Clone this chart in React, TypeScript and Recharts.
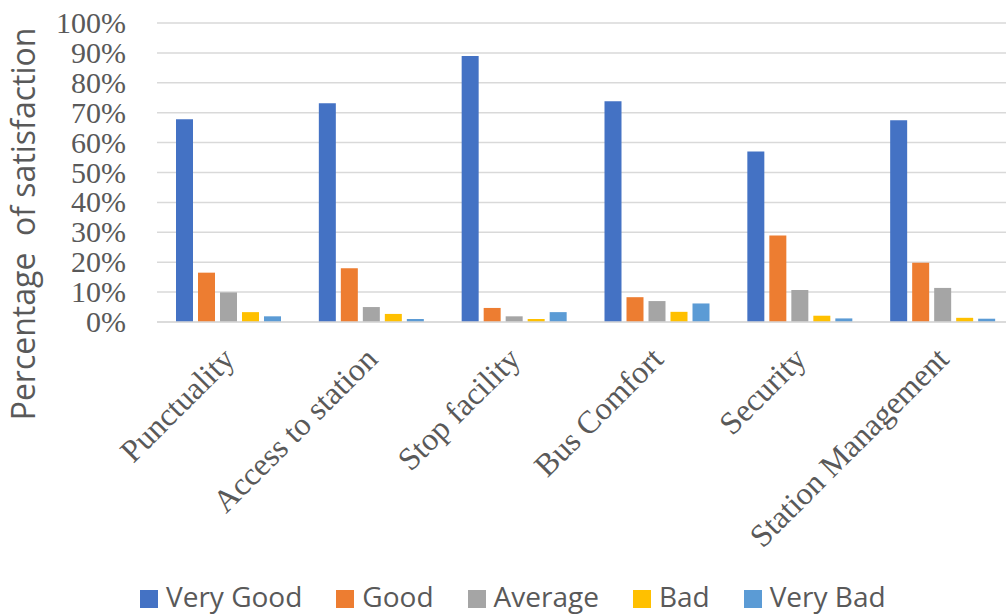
import React from 'react';
import { BarChart, Bar, XAxis, YAxis, CartesianGrid } from 'recharts';

const categories = ['Punctuality', 'Access to station', 'Stop facility', 'Bus Comfort', 'Security', 'Station Management'];
const veryGood = [67.8, 73.2, 89, 73.8, 57, 67.5];
const good = [16.5, 18, 4.7, 8.3, 28.9, 19.8];
const average = [9.9, 5, 1.9, 7, 10.7, 11.4];
const bad = [3.3, 2.7, 1, 3.4, 2.1, 1.4];
const veryBad = [1.9, 1, 3.3, 6.2, 1.2, 1.1];
const yTicks = [0, 10, 20, 30, 40, 50, 60, 70, 80, 90, 100];

const series = [
  { key: 'veryGood', name: 'Very Good', color: '#4472C4', values: veryGood },
  { key: 'good', name: 'Good', color: '#ED7D31', values: good },
  { key: 'average', name: 'Average', color: '#A5A5A5', values: average },
  { key: 'bad', name: 'Bad', color: '#FFC000', values: bad },
  { key: 'veryBad', name: 'Very Bad', color: '#5B9BD5', values: veryBad },
];

const data = categories.map((name, i) => {
  const row: any = { name };
  series.forEach(s => { row[s.key] = s.values[i]; });
  return row;
});

const serif = "'Liberation Serif', serif";
const sans = "'Open Sans', sans-serif";

const XTick = (props: any) => {
  const { x, y, payload } = props;
  return (
    <g transform={`translate(${x + 8},${y + 39})`}>
      <text transform="rotate(-45)" textAnchor="end" fill="#595959" fontFamily={serif} fontSize={32}>
        {payload.value}
      </text>
    </g>
  );
};

const YTick = (props: any) => {
  const { y, payload } = props;
  return (
    <text x={126} y={y + 10} textAnchor="end" fill="#595959" fontFamily={serif} fontSize={30}>
      {`${payload.value}%`}
    </text>
  );
};

const YLabel = () => (
  <text
    x={35}
    y={224}
    transform="rotate(-90 35 224)"
    textAnchor="middle"
    fill="#595959"
    fontFamily={sans}
    fontSize={32}
    style={{ whiteSpace: 'pre' }}
  >
    Percentage  of satisfaction
  </text>
);

export default function App() {
  return (
    <div style={{ position: 'fixed', left: 0, top: 0, width: 1006, height: 616, overflow: 'hidden', background: '#fff' }}>
      <BarChart
        width={1030}
        height={616}
        data={data}
        margin={{ top: 23, right: 16, left: 0, bottom: 0 }}
        barSize={17}
        barGap={5}
      >
        <CartesianGrid vertical={false} stroke="#d9d9d9" strokeWidth={1.5} />
        <XAxis
          dataKey="name"
          height={294}
          interval={0}
          tickLine={false}
          tickSize={0}
          tickMargin={0}
          axisLine={{ stroke: '#d9d9d9', strokeWidth: 1.5 }}
          tick={<XTick />}
        />
        <YAxis
          width={157}
          domain={[0, 100]}
          ticks={yTicks}
          interval={0}
          axisLine={false}
          tickLine={false}
          tick={<YTick />}
          label={{ content: () => <YLabel /> }}
        />
        {series.map(s => (
          <Bar key={s.key} dataKey={s.key} name={s.name} fill={s.color} isAnimationActive={false} />
        ))}
      </BarChart>
      {/* legend sits lower-left like the Excel original */}
      <div
        style={{
          position: 'absolute',
          left: 140,
          top: 582,
          height: 28,
          display: 'flex',
          alignItems: 'center',
          fontFamily: sans,
          fontSize: 28,
          lineHeight: '28px',
          color: '#595959',
          whiteSpace: 'nowrap',
        }}
      >
        {series.map(s => (
          <div key={s.key} style={{ display: 'flex', alignItems: 'center', marginRight: 34 }}>
            <span style={{ width: 18, height: 18, background: s.color, marginRight: 8, position: 'relative', top: 3 }} />
            <span>{s.name}</span>
          </div>
        ))}
      </div>
    </div>
  );
}
